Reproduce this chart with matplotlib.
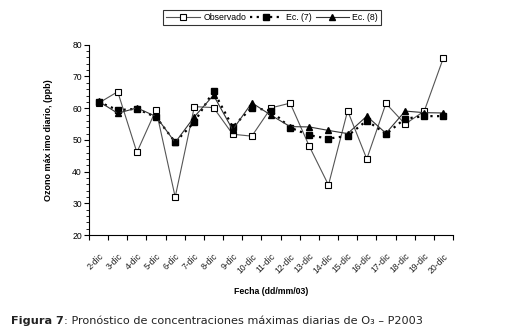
import matplotlib
matplotlib.use("Agg")
import matplotlib.pyplot as plt
from matplotlib.ticker import MultipleLocator

fechas = ['2-dic', '3-dic', '4-dic', '5-dic', '6-dic', '7-dic', '8-dic', '9-dic', '10-dic',
          '11-dic', '12-dic', '13-dic', '14-dic', '15-dic', '16-dic', '17-dic', '18-dic',
          '19-dic', '20-dic']
observado = [61.6, 65.2, 46.1, 59.5, 32.0, 60.5, 60.2, 51.8, 51.2, 60.1, 61.6, 48.0,
             35.8, 59.2, 44.0, 61.5, 55.0, 59.1, 75.9]
ec7 = [62.0, 59.4, 59.8, 57.2, 49.3, 55.6, 65.4, 54.1, 60.2, 59.2, 53.9, 51.5,
       50.4, 51.3, 56.1, 51.9, 56.7, 57.5, 57.5]
ec8 = [62.2, 58.4, 60.1, 57.4, 49.2, 57.3, 64.1, 53.2, 61.7, 57.8, 54.2, 54.1,
       53.0, 52.0, 57.5, 52.1, 59.1, 58.6, 58.5]

plt.rcParams['font.family'] = ['Liberation Sans', 'DejaVu Sans']

fig = plt.figure(figsize=(5.07, 3.34), dpi=100)
ax = fig.add_axes([0.1755, 0.296, 0.718, 0.570])

x = list(range(len(fechas)))
l1, = ax.plot(x, observado, color='#555555', lw=0.8, marker='s', ms=4,
              mfc='white', mec='black', mew=0.8, label='Observado')
l2, = ax.plot(x, ec7, color='black', lw=1.6, ls=(0, (1, 2)), marker='s', ms=4.2,
              mfc='black', mec='black', label='Ec. (7)')
l3, = ax.plot(x, ec8, color='#333333', lw=0.8, marker='^', ms=4.2,
              mfc='black', mec='black', label='Ec. (8)')

ax.set_xlim(-0.5, len(fechas) - 0.5)
ax.set_ylim(20, 80)
ax.yaxis.set_major_locator(MultipleLocator(10))
ax.yaxis.set_minor_locator(MultipleLocator(2))
ax.set_xticks([i - 0.5 for i in range(len(fechas) + 1)])
ax.set_xticklabels([])
ax.set_xticks(x, minor=True)
ax.set_xticklabels(fechas, minor=True, rotation=45, ha='right', rotation_mode='anchor',
                   fontsize=6.2, color='#222222')
ax.tick_params(axis='x', which='major', direction='out', length=3.5, width=0.8)
ax.tick_params(axis='x', which='minor', length=0, pad=12)
ax.tick_params(axis='y', which='major', direction='out', length=3.5, width=0.8, labelsize=6.2, pad=1.5)
ax.tick_params(axis='y', which='minor', direction='out', length=2, width=0.6)
for s in ['top', 'right']:
    ax.spines[s].set_visible(False)
for s in ['left', 'bottom']:
    ax.spines[s].set_linewidth(0.8)

ax.set_ylabel('Ozono máx imo diario, (ppb)', fontsize=6.5, fontweight='bold', labelpad=14)
fig.text(0.535, 0.12, 'Fecha (dd/mm/03)', fontsize=6.3, fontweight='bold', ha='center')

leg = fig.legend(handles=[l1, l2, l3], loc='center', bbox_to_anchor=(0.537, 0.948),
                 ncol=3, fontsize=6.3, frameon=True, fancybox=False, edgecolor='black',
                 handlelength=3.8, handletextpad=0.4, columnspacing=0.4, borderpad=0.35)
leg.get_frame().set_linewidth(0.8)

t1 = fig.text(0.022, 0.03, 'Figura 7', fontsize=8.1, fontweight='bold', family='DejaVu Sans',
              color='#222222')
fig.canvas.draw()
bb = t1.get_window_extent()
fig.text(bb.x1 / fig.bbox.width, 0.03,
         ': Pronóstico de concentraciones máximas diarias de O₃ – P2003',
         fontsize=8.1, family='DejaVu Sans', color='#222222')

fig.savefig('out.png', dpi=100)
